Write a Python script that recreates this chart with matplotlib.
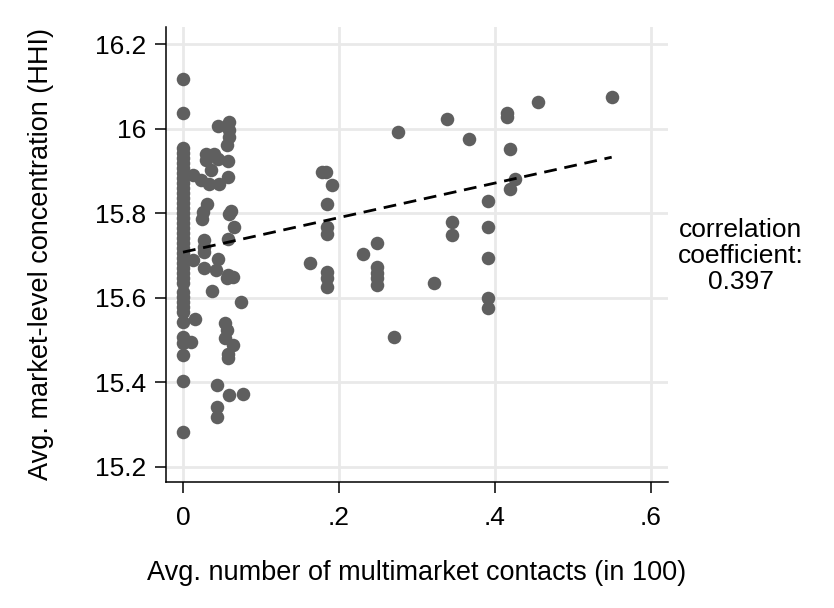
import numpy as np
import matplotlib.pyplot as plt

plt.rcParams['font.family'] = ['Liberation Sans', 'DejaVu Sans']

# markets with zero multimarket contacts
zero_hhi = [16.118, 16.037, 15.955, 15.943, 15.931, 15.919, 15.907, 15.895, 15.883,
            15.872, 15.860, 15.848, 15.836, 15.824, 15.812, 15.801, 15.789, 15.777,
            15.765, 15.753, 15.741, 15.730, 15.718, 15.706, 15.694, 15.682, 15.670,
            15.659, 15.647, 15.635, 15.614, 15.602, 15.590, 15.578, 15.566, 15.543,
            15.507, 15.493, 15.464, 15.403, 15.282]

contacts = [0.0445, 0.0586, 0.0586, 0.0586, 0.056, 0.0295, 0.0401, 0.0295, 0.0445,
            0.0573, 0.0359, 0.0581, 0.0124, 0.0231, 0.0337, 0.0465, 0.0304, 0.0253,
            0.0244, 0.0615, 0.0586, 0.065, 0.0273, 0.0573, 0.0273, 0.0124, 0.0273,
            0.0445, 0.0273, 0.0423, 0.0573, 0.0637, 0.056, 0.0372, 0.0744, 0.0158,
            0.0542, 0.056, 0.0542, 0.0637, 0.0573, 0.0573, 0.0103, 0.0432, 0.0586,
            0.0773, 0.0432, 0.0432,
            0.1628, 0.1778, 0.1833, 0.1906, 0.1842, 0.1842, 0.1842, 0.1842, 0.1842,
            0.1842, 0.2304, 0.2483, 0.2483, 0.2483, 0.2483, 0.2483, 0.2709, 0.275,
            0.3388, 0.3664, 0.3218, 0.3449, 0.3449, 0.3914, 0.3914, 0.3914, 0.3914,
            0.3914, 0.415, 0.4158, 0.4192, 0.4256, 0.4192, 0.4555, 0.5496]
hhi = [16.007, 16.016, 15.997, 15.981, 15.962, 15.941, 15.941, 15.926, 15.929,
       15.925, 15.902, 15.886, 15.891, 15.879, 15.870, 15.870, 15.823, 15.803,
       15.787, 15.805, 15.799, 15.767, 15.736, 15.740, 15.721, 15.689, 15.709,
       15.693, 15.670, 15.666, 15.654, 15.650, 15.646, 15.616, 15.591, 15.550,
       15.540, 15.524, 15.505, 15.488, 15.468, 15.457, 15.496, 15.393, 15.371,
       15.373, 15.342, 15.318,
       15.682, 15.898, 15.898, 15.867, 15.822, 15.767, 15.751, 15.662, 15.646,
       15.626, 15.703, 15.729, 15.673, 15.658, 15.646, 15.630, 15.507, 15.993,
       16.023, 15.976, 15.634, 15.779, 15.749, 15.830, 15.767, 15.695, 15.599,
       15.576, 16.037, 16.029, 15.952, 15.881, 15.857, 16.063, 16.075]

# linear fit as drawn in the chart
fit_intercept = 15.708
fit_slope = 0.409

x = np.array([0.0] * len(zero_hhi) + contacts)
y = np.array(zero_hhi + hhi)

xticks = [0, 0.2, 0.4, 0.6]
xlabels = ['0', '.2', '.4', '.6']
yticks = [15.2, 15.4, 15.6, 15.8, 16.0, 16.2]
ylabels = ['15.2', '15.4', '15.6', '15.8', '16', '16.2']

fig = plt.figure(figsize=(8.34, 6.08), dpi=100)
ax = fig.add_axes([166 / 834, 1 - 482 / 608, 502 / 834, 455 / 608])

ax.scatter(x, y, s=95, color='#5f5f5f', linewidths=0, zorder=3)

xs = np.array([x.min(), x.max()])
ax.plot(xs, fit_intercept + fit_slope * xs, color='black', lw=2,
        ls=(0, (4.6, 2.8)), zorder=4)

ax.set_xlim(-0.0218, 0.6218)
ax.set_ylim(15.164, 16.241)
ax.set_xticks(xticks)
ax.set_xticklabels(xlabels)
ax.set_yticks(yticks)
ax.set_yticklabels(ylabels)
ax.grid(True, color='#e9e9e9', lw=2)
ax.set_axisbelow(True)
for side in ['top', 'right']:
    ax.spines[side].set_visible(False)
for side in ['left', 'bottom']:
    ax.spines[side].set_linewidth(1.1)
ax.tick_params(labelsize=19, length=8, width=1.1, pad=6)
ax.tick_params(axis='x', pad=9)

ax.set_xlabel('Avg. number of multimarket contacts (in 100)', fontsize=19.5, labelpad=22)
ax.set_ylabel('Avg. market-level concentration (HHI)', fontsize=19.5, labelpad=30)

fig.text(741 / 834, 1 - 256 / 608, 'correlation\ncoefficient:\n0.397', fontsize=19,
         ha='center', va='center', linespacing=1.12)

fig.savefig('out.png', dpi=100)
